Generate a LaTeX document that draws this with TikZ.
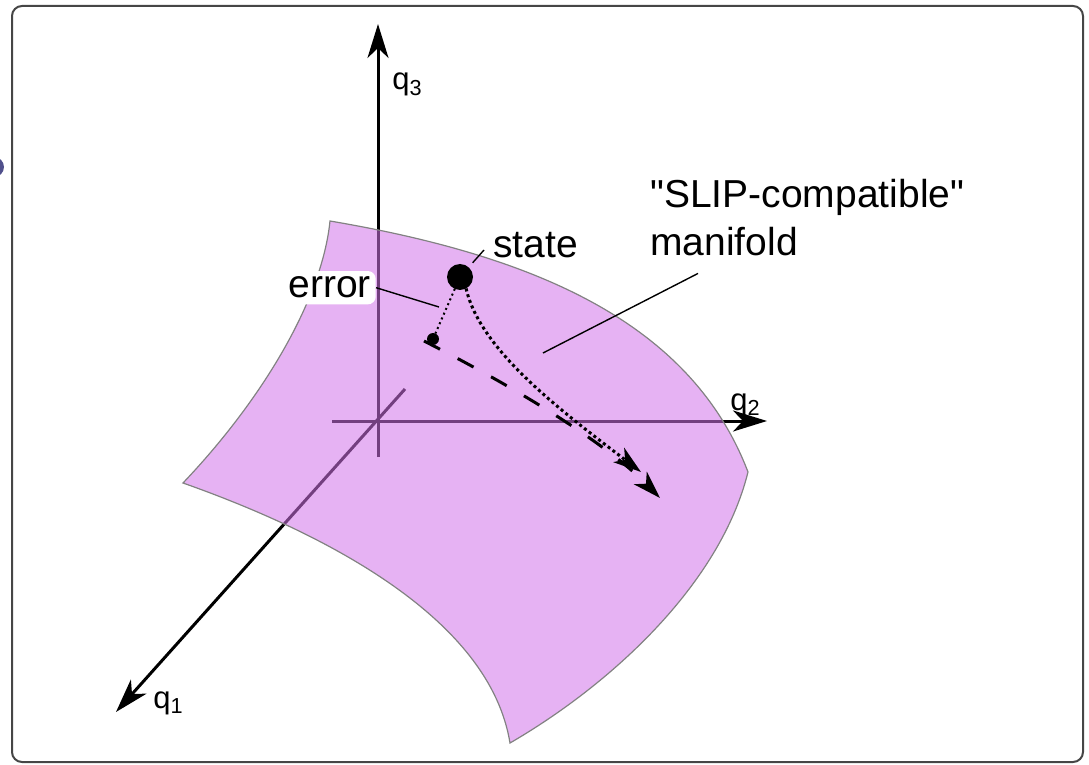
\documentclass[tikz,border=0pt]{standalone}
\usepackage{fontspec}
\setmainfont{Liberation Sans}[Ligatures=TeXOff]
\usetikzlibrary{arrows.meta,calc}
\definecolor{manifold}{RGB}{210,115,233}
\definecolor{frameline}{RGB}{70,70,70}
\definecolor{edgegray}{RGB}{130,130,130}
\definecolor{blob}{RGB}{80,80,140}

\begin{document}
\begin{tikzpicture}[
    x=0.5pt, y=-0.5pt,
    every node/.style={font=\fontsize{19.5}{24}\selectfont},
    axis/.style={line width=1.5pt, -{Stealth[length=17pt,width=10.5pt,inset=5pt]}},
    axlbl/.style={font=\fontsize{15.5}{18}\selectfont, anchor=base west, inner sep=0pt},
    surface/.style={fill=manifold, fill opacity=0.55, draw=edgegray, line width=0.6pt},
    lbl/.style={anchor=base west, inner sep=0pt},
    leader/.style={line width=0.7pt},
    dot/.style={circle, fill=black, inner sep=0pt, outer sep=0pt},
    traj/.style={line width=1.5pt, dash pattern=on 1.5pt off 1.5pt,
                -{Stealth[length=14pt,width=9pt,inset=4pt]}},
    nominal/.style={line width=1.5pt, dash pattern=on 9pt off 10pt,
                -{Stealth[length=14pt,width=9pt,inset=4pt]}},
    errline/.style={line width=1pt, dash pattern=on 1pt off 1.6pt}
  ]
    \useasboundingbox (0,0) rectangle (1089,765);

    % Frame
    \draw[frameline, line width=1pt, rounded corners=5pt] (12,6) rectangle (1083,762);
    \fill[blob] (-6,167) circle (10);

    % Axes (drawn below the patch)
    \coordinate (q3tail) at (378,457);
    \coordinate (q3end)  at (378,24);
    \coordinate (q2tail) at (332,421);
    \coordinate (q2end)  at (767,421);
    \coordinate (q1tail) at (405,389);
    \coordinate (q1end)  at (116,712);
    \draw[axis] (q3tail) -- (q3end);
    \draw[axis] (q2tail) -- (q2end);
    \draw[axis] (q1tail) -- (q1end);

    \node[axlbl] (q3lbl) at (392,90)  {q\textsubscript{3}};
    \node[axlbl] (q2lbl) at (730,410) {q\textsubscript{2}};
    \node[axlbl] (q1lbl) at (153,708) {q\textsubscript{1}};

    % Manifold patch
    \draw[surface] (330,221) .. controls (530,255) and (690,320) .. (748,472)
        .. controls (720,585) and (610,685) .. (510,743)
        .. controls (490,620) and (330,535) .. (183,483)
        .. controls (262,400) and (322,300) .. (330,221) -- cycle;

    % State, projection and trajectories
    \node[dot, minimum size=13pt] (statedot) at (460,277) {};
    \node[dot, minimum size=6pt]  (projdot)  at (433,339) {};
    \draw[errline] (statedot) -- (projdot);

    \coordinate (nomend)  at (660,498);
    \coordinate (trajend) at (641,472);
    \draw[nominal] ([shift={(-9,2)}]projdot.center) .. controls (540,400) and (615,452) .. (nomend);
    \draw[traj] (statedot.-62) .. controls (480,350) and (560,410) .. (trajend);

    % Labels
    \node[lbl] (statelbl) at (493,257) {state};
    \node[lbl, fill=white, rounded corners=4pt, inner xsep=2.5pt, inner ysep=3pt]
        (errlbl) at (283,298) {error};
    \node[lbl, align=left, anchor=north west] (manlbl) at (650,179)
        {"SLIP-compatible"\\manifold};

    % Leaders
    \coordinate (errpt) at (439,307);
    \coordinate (manpt) at (543,353);
    \draw[leader] (errlbl.east) -- (errpt);
    \draw[leader, shorten >=3pt] ([shift={(-9,-7)}]statelbl.base west) -- (statedot);
    \draw[leader] ([shift={(48,17)}]manlbl.south west) -- (manpt);
\end{tikzpicture}
\end{document}
